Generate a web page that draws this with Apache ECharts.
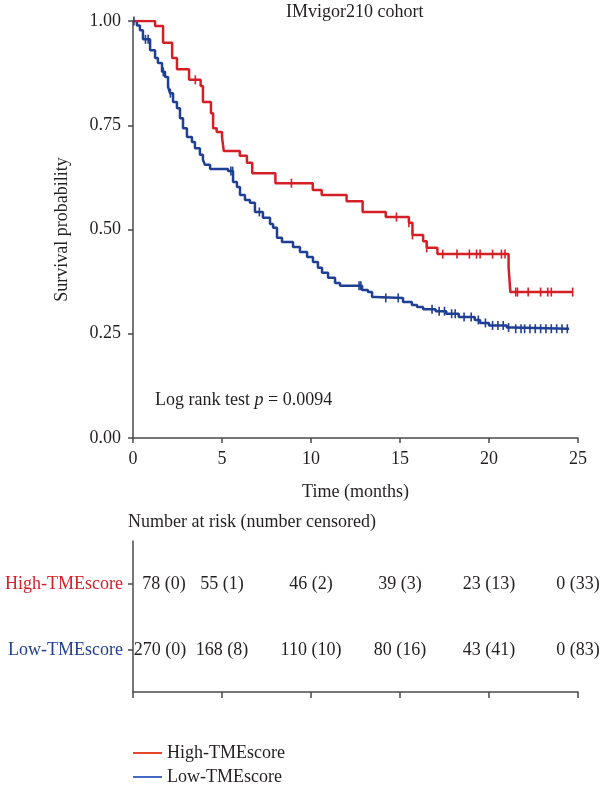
<!DOCTYPE html>
<html>
<head>
<meta charset="utf-8">
<script src="https://cdn.jsdelivr.net/npm/echarts@6/dist/echarts.min.js"></script>
<style>html,body{margin:0;padding:0;background:#fff}#c{width:600px;height:788px}</style>
</head>
<body>
<div id="c"></div>
<script>
// ---- Data ----
var highTimes = [0, 1.24, 1.69, 2.2, 2.47, 3.15, 3.8, 3.93, 4.38, 4.5, 4.7, 5.0, 5.1, 6.0, 6.4, 6.7, 8.0, 10.1, 10.6, 12.0, 12.9, 14.2, 15.5, 15.7, 16.3, 16.5, 17.1, 21.1, 21.2, 24.7];
var highSurv  = [1.0, 0.988, 0.948, 0.911, 0.884, 0.859, 0.844, 0.806, 0.779, 0.743, 0.734, 0.722, 0.688, 0.677, 0.660, 0.635, 0.611, 0.595, 0.583, 0.568, 0.542, 0.530, 0.516, 0.487, 0.472, 0.456, 0.441, 0.410, 0.350, 0.350];
var highCensor = [3.5, 8.9, 14.8, 15.5, 15.7, 16.5, 17.4, 18.2, 18.9, 19.3, 19.5, 20.2, 20.7, 20.9, 21.5, 21.6, 22.2, 22.9, 23.3, 23.5, 24.7];

var lowTimes = [0, 0.22, 0.39, 0.56, 0.96, 1.24, 1.40, 1.63, 1.80, 1.97, 2.08, 2.25, 2.47, 2.64, 2.81, 3.03, 3.31, 3.48, 3.76, 3.93, 4.04, 4.33, 5.34, 5.62, 5.84, 6.01, 6.29, 6.57, 6.85, 7.30, 7.70, 7.87, 8.09, 8.37, 8.99, 9.38, 9.78, 10.11, 10.39, 10.62, 10.96, 11.35, 11.63, 12.87, 13.2, 13.43, 13.6, 15.17, 15.67, 15.96, 16.3, 17.0, 17.6, 18.3, 19.2, 19.5, 20.0, 21.0, 21.3, 24.5];
var lowSurv  = [1.0, 0.989, 0.978, 0.956, 0.930, 0.911, 0.899, 0.878, 0.866, 0.842, 0.827, 0.806, 0.791, 0.767, 0.743, 0.722, 0.710, 0.695, 0.679, 0.667, 0.655, 0.645, 0.640, 0.614, 0.602, 0.583, 0.571, 0.564, 0.542, 0.528, 0.513, 0.504, 0.480, 0.470, 0.458, 0.446, 0.434, 0.422, 0.408, 0.396, 0.384, 0.372, 0.365, 0.355, 0.350, 0.338, 0.336, 0.326, 0.319, 0.314, 0.309, 0.304, 0.298, 0.290, 0.283, 0.276, 0.270, 0.265, 0.262, 0.262];
var lowCensor = [0.05, 0.7, 0.85, 1.7, 2.1, 5.5, 5.6, 7.1, 12.7, 12.8, 14.2, 14.9, 16.8, 17.2, 17.5, 17.9, 18.1, 18.6, 19.0, 19.4, 19.8, 20.2, 20.5, 20.8, 21.1, 21.5, 21.8, 22.0, 22.3, 22.6, 22.9, 23.2, 23.5, 23.8, 24.1, 24.4];

var riskTimes = [0, 5, 10, 15, 20, 25];
var highAtRisk = [78, 55, 46, 39, 23, 0];
var highCensored = [0, 1, 2, 3, 13, 33];
var lowAtRisk = [270, 168, 110, 80, 43, 0];
var lowCensored = [0, 8, 10, 16, 41, 83];

var groupNames = ['High-TMEscore', 'Low-TMEscore'];

// ---- Styles ----
var RED = '#d41f26', BLUE = '#1f3f94';
var FONT = "'Liberation Serif', 'DejaVu Serif', serif";
var TXT = '#231f20';
var AX = '#4a4a4a';

function stepVal(times, surv, t) {
  var v = surv[0];
  for (var i = 0; i < times.length; i++) { if (times[i] <= t) v = surv[i]; }
  return v;
}
function pairs(a, b) { return a.map(function (t, i) { return [t, b[i]]; }); }
function censorPts(ct, times, surv) { return ct.map(function (t) { return [t, stepVal(times, surv, t)]; }); }

function riskData(cat, atRisk, cens, firstOffset) {
  return riskTimes.map(function (t, i) {
    var d = { value: [t, cat], txt: atRisk[i] + ' (' + cens[i] + ')' };
    if (i === 0) d.label = { offset: [firstOffset, 0] };
    return d;
  });
}

function legendFor(i, top, col) {
  return {
    orient: 'vertical', left: 133, top: top, padding: 0, itemWidth: 29, itemHeight: 2,
    selectedMode: false,
    textStyle: { fontFamily: FONT, fontSize: 18, color: TXT },
    data: [{ name: groupNames[i], icon: 'rect', itemStyle: { color: col } }]
  };
}

var chart = echarts.init(document.getElementById('c'), null, { renderer: 'canvas' });
chart.setOption({
  animation: false,
  textStyle: { fontFamily: FONT, color: TXT },
  title: {
    text: 'IMvigor210 cohort', left: 286, top: 3, padding: 0,
    textStyle: { fontFamily: FONT, fontSize: 18, fontWeight: 'normal', color: TXT }
  },
  graphic: [
    { type: 'text', left: 155, top: 391, style: {
      text: '{a|Log rank test }{b|p}{a| = 0.0094}',
      rich: { a: { fontFamily: FONT, fontSize: 18, fill: TXT }, b: { fontFamily: FONT, fontSize: 18, fontStyle: 'italic', fill: TXT } } } },
    { type: 'text', left: 128, top: 513, style: { text: 'Number at risk (number censored)', font: '18px ' + FONT, fill: TXT } }
  ],
  legend: [legendFor(0, 744, '#e8452f'), legendFor(1, 768, '#4369c2')],
  grid: [
    { left: 133, right: 22, top: 21, height: 417 },
    { left: 133, right: 22, top: 541, height: 151 },
    { left: 133, right: 22, top: 551, height: 132 }
  ],
  xAxis: [
    { gridIndex: 0, type: 'value', min: 0, max: 25, interval: 5,
      name: 'Time (months)', nameLocation: 'middle', nameGap: 45,
      nameTextStyle: { fontFamily: FONT, fontSize: 18, color: TXT },
      axisLine: { onZero: false, lineStyle: { color: AX, width: 1.5 } },
      axisTick: { show: true, length: 5, lineStyle: { color: AX, width: 1.5 } },
      axisLabel: { fontFamily: FONT, fontSize: 18, color: TXT, margin: 12 },
      splitLine: { show: false } },
    { gridIndex: 1, type: 'value', min: 0, max: 25, interval: 5,
      axisLine: { show: true, onZero: false, lineStyle: { color: AX, width: 1.5 } },
      axisTick: { show: true, length: 6, lineStyle: { color: AX, width: 1.5 } },
      axisLabel: { show: false }, splitLine: { show: false } },
    { gridIndex: 2, type: 'value', min: 0, max: 25, interval: 5, show: false }
  ],
  yAxis: [
    { gridIndex: 0, type: 'value', min: 0, max: 1, interval: 0.25,
      name: 'Survival probability', nameLocation: 'middle', nameGap: 62,
      nameTextStyle: { fontFamily: FONT, fontSize: 18, color: TXT },
      axisLine: { show: true, lineStyle: { color: AX, width: 1.5 } },
      axisTick: { show: true, length: 5, lineStyle: { color: AX, width: 1.5 } },
      axisLabel: { fontFamily: FONT, fontSize: 18, color: TXT, margin: 12, formatter: function (v) { return v.toFixed(2); } },
      splitLine: { show: false } },
    { gridIndex: 1, type: 'value', min: 0, max: 1,
      axisLine: { show: true, lineStyle: { color: AX, width: 1.5 } },
      axisTick: { show: false }, axisLabel: { show: false }, splitLine: { show: false } },
    { gridIndex: 2, type: 'category', data: [groupNames[1], groupNames[0]],
      axisLine: { show: false },
      axisTick: { show: true, length: 5, alignWithLabel: true, lineStyle: { color: AX, width: 1.5 } },
      axisLabel: { fontFamily: FONT, fontSize: 18, margin: 10,
        formatter: function (v) { return v === groupNames[0] ? '{h|' + v + '}' : '{l|' + v + '}'; },
        rich: { h: { color: RED, fontFamily: FONT, fontSize: 18 }, l: { color: BLUE, fontFamily: FONT, fontSize: 18 } } } }
  ],
  series: [
    { name: groupNames[0], type: 'line', step: 'end', xAxisIndex: 0, yAxisIndex: 0, showSymbol: false,
      lineStyle: { color: RED, width: 2.5 }, itemStyle: { color: RED }, data: pairs(highTimes, highSurv), z: 3 },
    { name: groupNames[1], type: 'line', step: 'end', xAxisIndex: 0, yAxisIndex: 0, showSymbol: false,
      lineStyle: { color: BLUE, width: 2.5 }, itemStyle: { color: BLUE }, data: pairs(lowTimes, lowSurv), z: 2 },
    { name: groupNames[0], type: 'scatter', xAxisIndex: 0, yAxisIndex: 0, symbol: 'rect', symbolSize: [1.6, 9],
      itemStyle: { color: RED, opacity: 1 }, data: censorPts(highCensor, highTimes, highSurv), z: 4 },
    { name: groupNames[1], type: 'scatter', xAxisIndex: 0, yAxisIndex: 0, symbol: 'rect', symbolSize: [1.6, 9],
      itemStyle: { color: BLUE, opacity: 1 }, data: censorPts(lowCensor, lowTimes, lowSurv), z: 4 },
    { type: 'scatter', xAxisIndex: 2, yAxisIndex: 2, symbolSize: 0, silent: true,
      itemStyle: { opacity: 1 },
      label: { show: true, position: 'inside', color: TXT, opacity: 1, fontFamily: FONT, fontSize: 18,
        formatter: function (p) { return p.data.txt; } },
      data: riskData(groupNames[0], highAtRisk, highCensored, 31).concat(riskData(groupNames[1], lowAtRisk, lowCensored, 27)) }
  ]
});
</script>
</body>
</html>
